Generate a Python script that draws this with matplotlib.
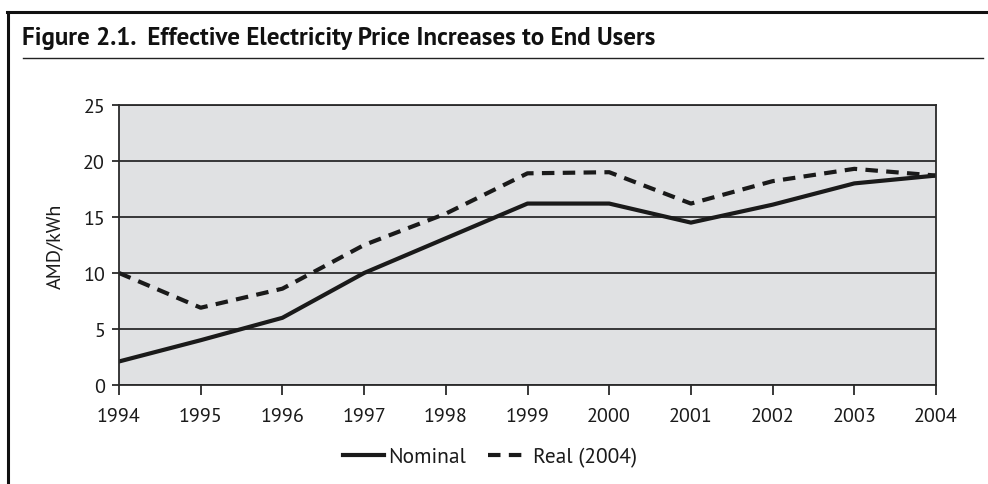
import matplotlib
matplotlib.use('Agg')
from matplotlib import pyplot as plt
from matplotlib.lines import Line2D

# values
years = [1994, 1995, 1996, 1997, 1998, 1999, 2000, 2001, 2002, 2003, 2004]
nominal = [2.1, 4.0, 6.0, 10.0, 13.1, 16.2, 16.2, 14.5, 16.1, 18.0, 18.7]
real_2004 = [10.0, 6.9, 8.6, 12.5, 15.3, 18.9, 19.0, 16.2, 18.2, 19.3, 18.7]
y_ticks = [0, 5, 10, 15, 20, 25]

title = 'Figure 2.1.  Effective Electricity Price Increases to End Users'

W, H = 988, 485
fig = plt.figure(figsize=(W / 100, H / 100), dpi=100)
fig.patch.set_facecolor('white')

# frame lines of the figure box
fig.add_artist(Line2D([7 / W, 1], [1 - 12.5 / H, 1 - 12.5 / H], color='#111111', lw=2.2))
fig.add_artist(Line2D([8 / W, 8 / W], [0, 1 - 12.5 / H], color='#111111', lw=2.2))
fig.add_artist(Line2D([23 / W, 983 / W], [1 - 59 / H, 1 - 59 / H], color='#222222', lw=1.0))

title_font = ['PT Sans', 'DejaVu Sans']
fig.text(22 / W, 1 - 39 / H, title, ha='left', va='center', fontsize=18,
         fontweight='bold', family=title_font, color='#111111')

ax = fig.add_axes([119 / W, 1 - 386 / H, (936 - 119) / W, (386 - 106) / H])
ax.set_facecolor('#e0e1e3')

ax.plot(years, nominal, color='#1a1a1a', lw=3, label='Nominal')
ax.plot(years, real_2004, color='#1a1a1a', lw=3, ls=(0, (3.0, 2.0)), label='Real (2004)')

ax.set_xlim(1994, 2004)
ax.set_ylim(0, 25)
ax.set_xticks(years)
ax.set_yticks(y_ticks)
ax.yaxis.grid(True, color='#2a2a2a', lw=1.3)
ax.set_axisbelow(True)
for s in ax.spines.values():
    s.set_color('#2a2a2a')
    s.set_linewidth(1.3)

tick_font = ['PT Sans', 'Noto Sans', 'DejaVu Sans']
ax.tick_params(axis='both', direction='out', color='#2a2a2a', width=1.3,
               labelsize=14.5, labelcolor='#1a1a1a')
ax.tick_params(axis='x', length=7, pad=9)
ax.tick_params(axis='y', length=5, pad=5)
for lab in ax.get_xticklabels() + ax.get_yticklabels():
    lab.set_family(tick_font)

ax.set_ylabel('AMD/kWh', fontsize=14.5, family=tick_font, color='#1a1a1a', labelpad=14)

leg = fig.legend(loc='center', bbox_to_anchor=(490 / W, 1 - 458 / H), ncol=2,
                 frameon=False, handlelength=1.9, handletextpad=0.2,
                 columnspacing=1.0, prop={'family': tick_font, 'size': 15.5})
for t in leg.get_texts():
    t.set_color('#1a1a1a')

fig.savefig('out.png', dpi=100)
